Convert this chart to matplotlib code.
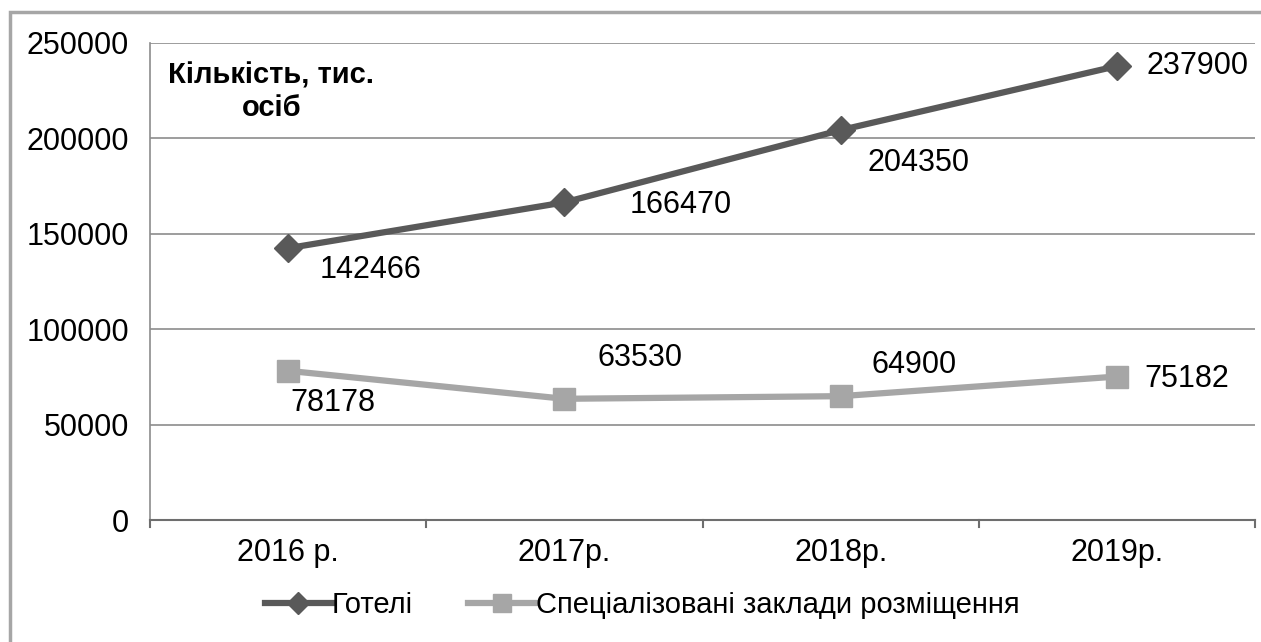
import matplotlib.pyplot as plt
from matplotlib.patches import Rectangle

plt.rcParams['font.family'] = ['Liberation Sans', 'DejaVu Sans']

years = ['2016 р.', '2017р.', '2018р.', '2019р.']
hotels = [142466, 166470, 204350, 237900]
special = [78178, 63530, 64900, 75182]

W, H = 1261, 642
PX = 0.72  # points per pixel at dpi 100
fig = plt.figure(figsize=(W / 100, H / 100), dpi=100)
ax = fig.add_axes([150 / W, 1 - 520 / H, (1255 - 150) / W, (520 - 43) / H])

# outer frame of the chart (cut at right and bottom like the original)
fig.patches.append(Rectangle((10 / W, -0.05), 1.2, 1 - 12 / H + 0.05, transform=fig.transFigure,
                             fill=False, edgecolor='#a6a6a6', linewidth=2.5))

x = range(len(years))
ax.plot(x, hotels, color='#595959', lw=4.5, marker='D', ms=14, label='Готелі', zorder=3)
ax.plot(x, special, color='#a6a6a6', lw=4.5, marker='s', ms=16,
        label='Спеціалізовані заклади розміщення', zorder=3)

ax.set_xlim(-0.5, 3.5)
ax.set_ylim(0, 250000)
ax.set_yticks(range(0, 250001, 50000))
ax.yaxis.grid(True, color='#8c8c8c', lw=1.2)
ax.set_axisbelow(True)
ax.tick_params(axis='y', length=0, pad=15, labelsize=22)
ax.tick_params(axis='x', length=0, pad=13, labelsize=22)
ax.set_xticks(list(x))
ax.set_xticklabels(years)
for s in ['top', 'right']:
    ax.spines[s].set_visible(False)
ax.spines['left'].set_color('#8c8c8c')
ax.spines['left'].set_linewidth(1.2)
ax.spines['bottom'].set_color('#6e6e6e')
ax.spines['bottom'].set_linewidth(1.5)
# boundary ticks between categories
for b in [-0.5, 0.5, 1.5, 2.5, 3.5]:
    ax.plot([b, b], [0, -3500], color='#6e6e6e', lw=1.5, clip_on=False)

# data labels (offsets in pixels: right, up)
h_off = [(32, -22), (65, -3), (27, -33), (30, 0)]
s_off = [(2, -32), (33, 41), (31, 31), (27, -2)]
for i, v in enumerate(hotels):
    ax.annotate(str(v), (i, v), xytext=(h_off[i][0] * PX, h_off[i][1] * PX),
                textcoords='offset points', ha='left', va='center', fontsize=22)
for i, v in enumerate(special):
    ax.annotate(str(v), (i, v), xytext=(s_off[i][0] * PX, s_off[i][1] * PX),
                textcoords='offset points', ha='left', va='center', fontsize=22)

ax.text(168 / W, 1 - 75 / H, 'Кількість, тис.', transform=fig.transFigure,
        fontsize=21, fontweight='bold', ha='left', va='center')
ax.text(272 / W, 1 - 108 / H, 'осіб', transform=fig.transFigure,
        fontsize=21, fontweight='bold', ha='center', va='center')

fig.legend(loc='center', bbox_to_anchor=(642 / W, 1 - 605 / H), ncol=2, frameon=False,
           fontsize=21, handlelength=2.3, handletextpad=0.0, columnspacing=1.9,
           markerscale=0.8)

fig.savefig('out.png', dpi=100)
